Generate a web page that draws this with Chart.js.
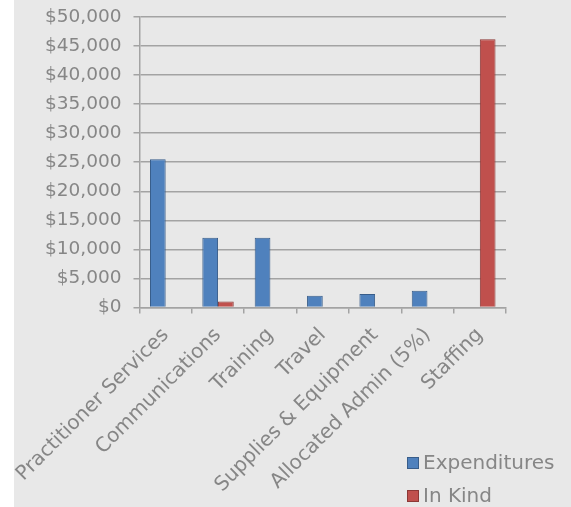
<!DOCTYPE html>
<html>
<head>
<meta charset="utf-8">
<script src="https://cdn.jsdelivr.net/npm/chart.js@4.4.1/dist/chart.umd.min.js"></script>
<style>
  html, body { margin: 0; padding: 0; background: #fff; }
  #wrap { width: 571px; height: 507px; }
</style>
</head>
<body>
<div id="wrap"><canvas id="budgetChart" width="571" height="507"></canvas></div>
<script>
// budget categories and the two series
const categories = ["Practitioner Services", "Communications", "Training", "Travel",
    "Supplies & Equipment", "Allocated Admin (5%)", "Staffing"];
const expenditures = [25500, 12000, 12000, 2000, 2300, 2850, null];
const inKind = [null, 1000, null, null, null, null, 46150];

const yMin = 0, yMax = 50000, yStep = 5000;

const gray = '#868686';
const gridColor = '#a3a3a3';

// grey panel behind the chart (left strip stays white)
const panelBg = {
    id: 'panelBg',
    beforeDraw(chart) {
        const c = chart.ctx;
        c.save();
        c.fillStyle = '#e8e8e8';
        c.fillRect(14, 0, chart.width - 14, chart.height);
        c.restore();
    }
};

// legend sits under the plot, bottom right, like the original
const cornerLegend = {
    id: 'cornerLegend',
    afterDraw(chart) {
        const c = chart.ctx;
        c.save();
        c.font = '20px "DejaVu Sans"';
        c.textBaseline = 'middle';
        chart.data.datasets.forEach((ds, i) => {
            const y = 463 + i * 33;
            c.fillStyle = ds.backgroundColor;
            c.strokeStyle = ds.borderColor;
            c.lineWidth = 1;
            c.fillRect(407, y - 6, 12, 12);
            c.strokeRect(407.5, y - 5.5, 11, 11);
            c.fillStyle = gray;
            c.fillText(ds.label, 423, y + 1);
        });
        c.restore();
    }
};

// let the long rotated labels spill out instead of squeezing the plot
function noScalePadding(scale) {
    scale.paddingLeft = 0;
    scale.paddingRight = 0;
    scale.paddingTop = 0;
    scale.paddingBottom = 0;
}

new Chart(document.getElementById('budgetChart'), {
    type: 'bar',
    data: {
        labels: categories,
        datasets: [
            { label: 'Expenditures', data: expenditures, backgroundColor: '#4f81bd', borderColor: '#385d8a', borderWidth: 1 },
            { label: 'In Kind', data: inKind, backgroundColor: '#c0504d', borderColor: '#8c3836', borderWidth: 1 }
        ]
    },
    options: {
        responsive: false,
        animation: false,
        devicePixelRatio: 1,
        categoryPercentage: 0.6,
        barPercentage: 1,
        layout: { padding: { left: 33, right: 65, top: 17, bottom: 0 } },
        plugins: {
            legend: { display: false },
            tooltip: { enabled: false }
        },
        scales: {
            x: {
                afterFit: noScalePadding,
                grid: { display: true, drawOnChartArea: false, drawTicks: true, tickLength: 6, color: gridColor, lineWidth: 1.5 },
                border: { display: true, color: gridColor, width: 1.5 },
                ticks: {
                    autoSkip: false, minRotation: 45, maxRotation: 45, padding: 10,
                    color: gray, font: { family: 'DejaVu Sans', size: 20 }
                }
            },
            y: {
                afterFit: noScalePadding,
                min: yMin, max: yMax,
                grid: { color: gridColor, lineWidth: 1.5, tickLength: 6 },
                border: { display: true, color: gridColor, width: 1.5 },
                ticks: {
                    stepSize: yStep, padding: 12, color: gray,
                    font: { family: 'DejaVu Sans', size: 18.5 },
                    callback: v => '$' + v.toLocaleString('en-US')
                }
            }
        }
    },
    plugins: [panelBg, cornerLegend]
});
</script>
</body>
</html>
